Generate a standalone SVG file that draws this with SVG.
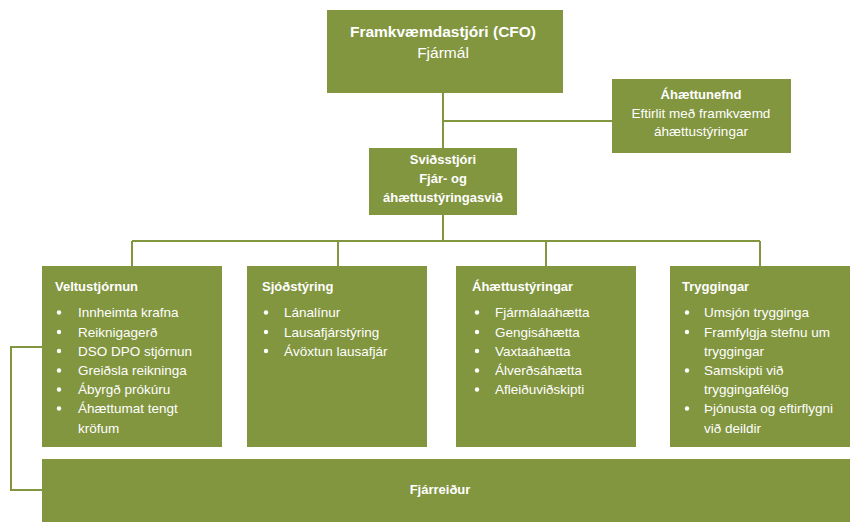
<svg xmlns="http://www.w3.org/2000/svg" width="851" height="523" viewBox="0 0 851 523">
<style>
.box{fill:#82953f}
.ln{fill:none;stroke:#82953f;stroke-width:2}
text{font-family:"Liberation Sans","Arial",sans-serif;fill:#fff;font-size:13.5px}
.b{font-weight:bold;font-size:13px}
.c{text-anchor:middle}
.big{font-size:15.5px}
.dot{fill:#fff}
</style>
<rect width="851" height="523" fill="#fff"/>
<g id="connectors">
<path class="ln" d="M443 93V148M443 121H612M443 215V241M132 241H760M132 241V266M338 241V266M546 241V266M760 241V266"/>
<path class="ln" d="M42 347H11V490H42"/>
</g>
<g id="cfo">
<rect class="box" x="327" y="10" width="236" height="83"/>
<text class="b c big" x="443" y="37">Framkvæmdastjóri (CFO)</text>
<text class="c big" x="443" y="58">Fjármál</text>
</g>
<g id="ahaettunefnd">
<rect class="box" x="612" y="79" width="179" height="74"/>
<text class="b c" x="701" y="99">Áhættunefnd</text>
<text class="c" x="701" y="118">Eftirlit með framkvæmd</text>
<text class="c" x="701" y="136">áhættustýringar</text>
</g>
<g id="svidsstjori">
<rect class="box" x="369" y="148" width="148" height="67"/>
<text class="b c" x="443" y="164">Sviðsstjóri</text>
<text class="b c" x="443" y="183">Fjár- og</text>
<text class="b c" x="443" y="202">áhættustýringasvið</text>
</g>
<g id="veltustjornun">
<rect class="box" x="42" y="266" width="180" height="181"/>
<text class="b" x="55" y="291">Veltustjórnun</text>
<g class="dot"><circle cx="59" cy="312.5" r="2.2"/><circle cx="59" cy="332" r="2.2"/><circle cx="59" cy="351" r="2.2"/><circle cx="59" cy="370.5" r="2.2"/><circle cx="59" cy="389.5" r="2.2"/><circle cx="59" cy="408.5" r="2.2"/></g>
<text x="78" y="317">Innheimta krafna</text>
<text x="78" y="336.5">Reiknigagerð</text>
<text x="78" y="355.5">DSO DPO stjórnun</text>
<text x="78" y="375">Greiðsla reikninga</text>
<text x="78" y="394">Ábyrgð prókúru</text>
<text x="78" y="413">Áhættumat tengt</text>
<text x="78" y="432.5">kröfum</text>
</g>
<g id="sjodstyring">
<rect class="box" x="247" y="266" width="180" height="181"/>
<text class="b" x="262" y="291">Sjóðstýring</text>
<g class="dot"><circle cx="266" cy="312.5" r="2.2"/><circle cx="266" cy="332" r="2.2"/><circle cx="266" cy="351" r="2.2"/></g>
<text x="284" y="317">Lánalínur</text>
<text x="284" y="336.5">Lausafjárstýring</text>
<text x="284" y="355.5">Ávöxtun lausafjár</text>
</g>
<g id="ahaettustyringar">
<rect class="box" x="456" y="266" width="180" height="181"/>
<text class="b" x="472" y="291">Áhættustýringar</text>
<g class="dot"><circle cx="477" cy="312.5" r="2.2"/><circle cx="477" cy="332" r="2.2"/><circle cx="477" cy="351" r="2.2"/><circle cx="477" cy="370.5" r="2.2"/><circle cx="477" cy="389.5" r="2.2"/></g>
<text x="495" y="317">Fjármálaáhætta</text>
<text x="495" y="336.5">Gengisáhætta</text>
<text x="495" y="355.5">Vaxtaáhætta</text>
<text x="495" y="375">Álverðsáhætta</text>
<text x="495" y="394">Afleiðuviðskipti</text>
</g>
<g id="tryggingar">
<rect class="box" x="670" y="266" width="180" height="181"/>
<text class="b" x="682" y="291">Tryggingar</text>
<g class="dot"><circle cx="687" cy="312.5" r="2.2"/><circle cx="687" cy="332" r="2.2"/><circle cx="687" cy="370.5" r="2.2"/><circle cx="687" cy="408.5" r="2.2"/></g>
<text x="704" y="317">Umsjón trygginga</text>
<text x="704" y="336.5">Framfylgja stefnu um</text>
<text x="704" y="355.5">tryggingar</text>
<text x="704" y="375">Samskipti við</text>
<text x="704" y="394">tryggingafélög</text>
<text x="704" y="413">Þjónusta og eftirflygni</text>
<text x="704" y="432.5">við deildir</text>
</g>
<g id="fjarreidur">
<rect class="box" x="42" y="459" width="808" height="63"/>
<text class="b c" x="440" y="494">Fjárreiður</text>
</g>
</svg>
